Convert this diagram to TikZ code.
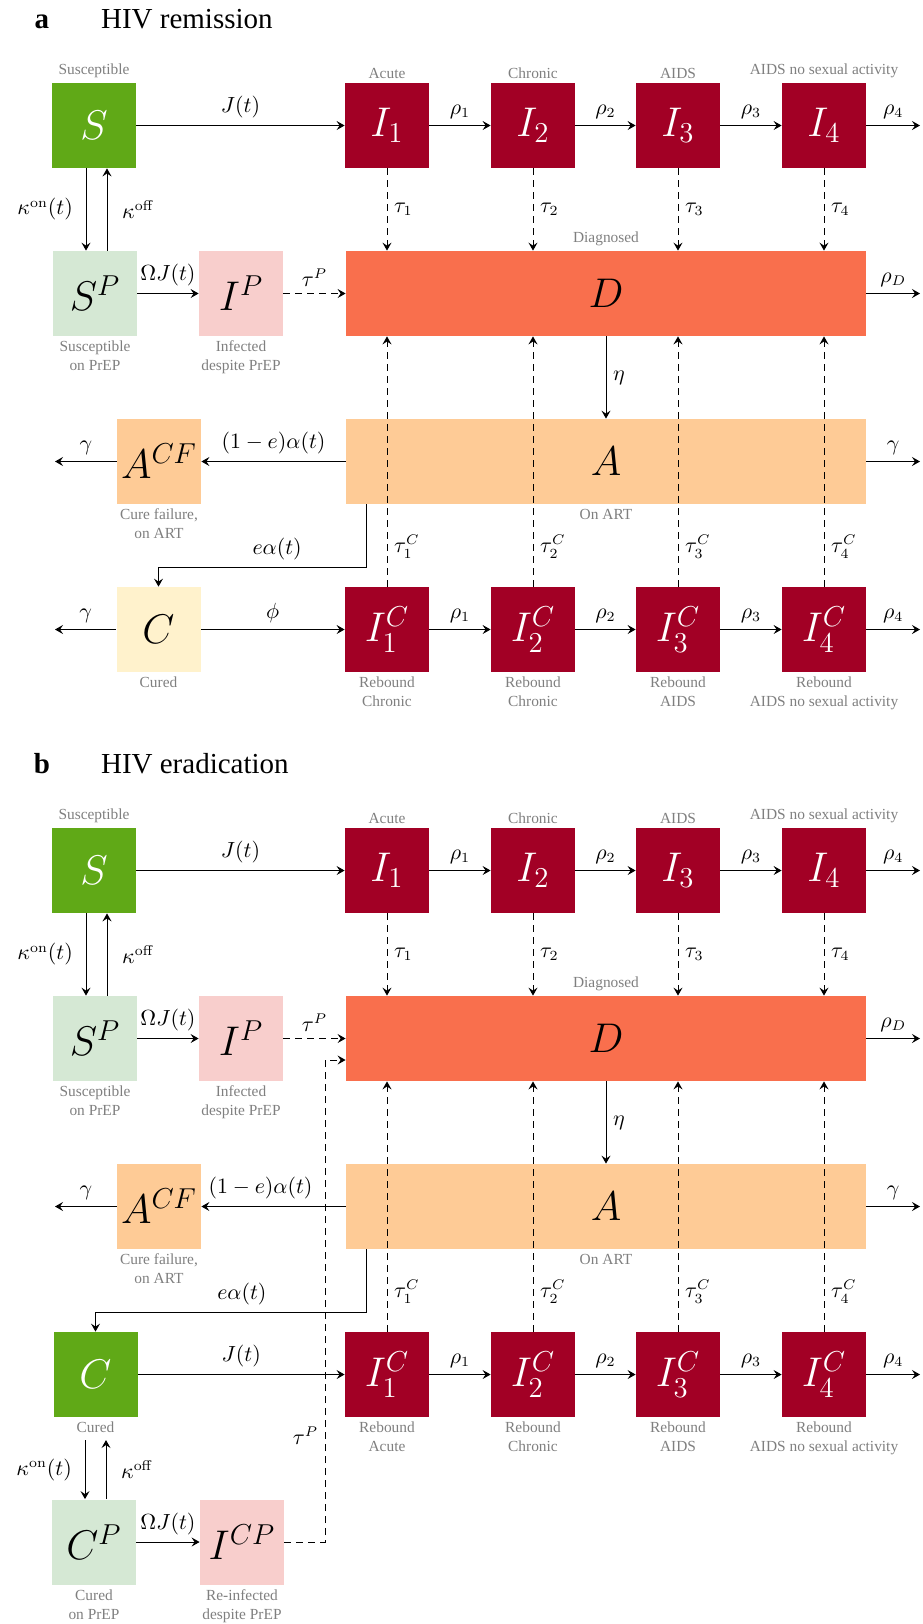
\documentclass[tikz,border=0pt]{standalone}
\usepackage[no-math]{fontspec}
\setmainfont{Liberation Serif}
\usetikzlibrary{arrows.meta,positioning}
\definecolor{suscGreen}{HTML}{60A917}
\definecolor{infRed}{HTML}{A20025}
\definecolor{diagOrange}{HTML}{F96F4D}
\definecolor{artPeach}{HTML}{FECB96}
\definecolor{curedCream}{HTML}{FFF2CC}
\definecolor{prepGreen}{HTML}{D5E8D4}
\definecolor{prepPink}{HTML}{F8CECC}
\definecolor{tagGray}{HTML}{7F7F7F}

\tikzset{
  comp/.style={minimum width=42pt,minimum height=42.5pt,inner sep=0pt,
    font=\fontsize{20}{24}\selectfont},
  infbox/.style={comp,fill=infRed,text=white},
  widebox/.style={comp,minimum width=260pt},
  tag/.style={font=\fontsize{7.7}{9.5}\selectfont,text=tagGray,align=center,inner sep=1pt},
  flow/.style={-{Stealth[length=4pt,width=4.5pt,inset=1.5pt]},line width=0.5pt},
  diag/.style={flow,dash pattern=on 3.5pt off 2.5pt},
  heading/.style={font=\fontsize{14.5}{17}\selectfont,anchor=base}
}

% Parts shared by both panels: #1 prefix, #2 shift (px), #3 letter,
% #4 title, #5 stage under the first rebound box.
\newcommand{\hivcore}[5]{%
\begin{scope}[shift={(0,#2)}]
  \node[heading,font=\fontsize{14.5}{17}\selectfont\bfseries] (#1Tag) at (42,28) {#3};
  \node[heading,anchor=base west] (#1Title) at (94,28) {#4};

  % infection chain
  \node[comp,fill=suscGreen,text=white] (#1S) at (94,125.5) {$S$};
  \node[tag,above=1pt of #1S] (#1LS) {Susceptible};
  \foreach \k/\x/\stage in {1/387/Acute,2/533/Chronic,3/678/AIDS,4/824/AIDS no sexual activity} {
    \node[infbox] (#1I\k) at (\x,125.5) {$I_\k$};
    \node[tag,above=1pt of #1I\k] (#1LI\k) {\stage};
  }

  % PrEP and diagnosis
  \node[comp,fill=prepGreen] (#1SP) at (95,293.5) {$S^P$};
  \node[tag,below=1pt of #1SP] (#1LSP) {Susceptible\\on PrEP};
  \node[comp,fill=prepPink] (#1IP) at (241,293.5) {$I^P$};
  \node[tag,below=1pt of #1IP] (#1LIP) {Infected\\despite PrEP};
  \node[widebox,fill=diagOrange] (#1D) at (606,293.5) {$D$};
  \node[tag,above=1pt of #1D] (#1LD) {Diagnosed};

  % treatment
  \node[comp,fill=artPeach] (#1CF) at (159,461.5) {$A^{CF}$};
  \node[tag,below=1pt of #1CF] (#1LCF) {Cure failure,\\on ART};
  \node[widebox,fill=artPeach] (#1A) at (606,461.5) {$A$};
  \node[tag,below=1pt of #1A] (#1LA) {On ART};

  % rebound chain
  \foreach \k/\x/\stage in {1/387/{#5},2/533/Chronic,3/678/AIDS,4/824/AIDS no sexual activity} {
    \node[infbox] (#1J\k) at (\x,629.5) {$I^C_\k$};
    \node[tag,below=1pt of #1J\k] (#1LJ\k) {Rebound\\\stage};
  }

  \coordinate (#1oI) at (920,125.5);
  \coordinate (#1oD) at (920,293.5);
  \coordinate (#1oA) at (920,461.5);
  \coordinate (#1oJ) at (920,629.5);
  \coordinate (#1oCF) at (55,461.5);

  \draw[flow] (#1S) -- node[above]{$J(t)$} (#1I1);
  \foreach \k/\n in {1/2,2/3,3/4} {
    \draw[flow] (#1I\k) -- node[above]{$\rho_\k$} (#1I\n);
    \draw[flow] (#1J\k) -- node[above]{$\rho_\k$} (#1J\n);
  }
  \draw[flow] (#1I4) -- node[above]{$\rho_4$} (#1oI);
  \draw[flow] (#1J4) -- node[above]{$\rho_4$} (#1oJ);
  \foreach \k in {1,...,4} {
    \draw[diag] (#1I\k) -- node[right]{$\tau_\k$} (#1I\k |- #1D.north);
    \draw[diag] (#1J\k) -- node[pos=0.16,right]{$\tau^C_\k$} (#1J\k |- #1D.south);
  }

  \draw[flow] ([xshift=-4pt]#1S.south) -- node[left=3pt]{$\kappa^{\mathrm{on}}(t)$}
    ([xshift=-4pt]#1S.south |- #1SP.north);
  \draw[flow] ([xshift=6.5pt]#1S.south |- #1SP.north) -- node[right=4pt]{$\kappa^{\mathrm{off}}$}
    ([xshift=6.5pt]#1S.south);
  \draw[flow] (#1SP) -- node[above]{$\Omega J(t)$} (#1IP);
  \draw[diag] (#1IP) -- node[above]{$\tau^P$} (#1D);
  \draw[flow] (#1D) -- node[above]{$\rho_D$} (#1oD);
  \draw[flow] (#1D) -- node[right]{$\eta$} (#1A);
  \draw[flow] (#1CF) -- node[above]{$\gamma$} (#1oCF);
  \draw[flow] (#1A) -- node[above]{$\gamma$} (#1oA);
\end{scope}}

\begin{document}
\begin{tikzpicture}[x=0.5pt,y=-0.5pt,font=\fontsize{10.6}{12.7}\selectfont]
\useasboundingbox (0,0) rectangle (922,1624);

% a: remission
\hivcore{a}{0}{a}{HIV remission}{Chronic}
\node[comp,fill=curedCream] (aC) at (158.5,629.5) {$C$};
\node[tag,below=1pt of aC] (aLC) {Cured};
\coordinate (aoC) at (55,629.5);
\draw[flow] (aA) -- node[above]{$(1-e)\alpha(t)$} (aCF);
\draw[flow] ([xshift=10.5pt]aA.south west) -- ++(0,63)
  -| node[pos=0.215,above]{$e\alpha(t)$} (aC.north);
\draw[flow] (aC) -- node[above]{$\phi$} (aJ1);
\draw[flow] (aC) -- node[above]{$\gamma$} (aoC);

% b: eradication, cured people can be re-infected
\hivcore{b}{745}{b}{HIV eradication}{Acute}
\node[comp,fill=suscGreen,text=white] (bC) at (95.5,1374.5) {$C$};
\node[tag,below=1pt of bC] (bLC) {Cured};
\node[comp,fill=prepGreen] (bCP) at (94,1542) {$C^P$};
\node[tag,below=1pt of bCP] (bLCP) {Cured\\on PrEP};
\node[comp,fill=prepPink] (bICP) at (242,1542) {$I^{CP}$};
\node[tag,below=1pt of bICP] (bLICP) {Re-infected\\despite PrEP};
\coordinate (bKon) at ([xshift=-5.25pt,yshift=-2.5pt]bLC.south);
\coordinate (bKoff) at ([xshift=5.25pt,yshift=-2.5pt]bLC.south);

\draw[flow] (bA) -- node[pos=0.59,above]{$(1-e)\alpha(t)$} (bCF);
\draw[flow] ([xshift=10.5pt]bA.south west) -- ++(0,63)
  -| node[pos=0.23,above]{$e\alpha(t)$} (bC.north);
\draw[flow] (bC) -- node[above]{$J(t)$} (bJ1);
\draw[flow] (bKon) -- node[left=3pt]{$\kappa^{\mathrm{on}}(t)$} (bKon |- bCP.north);
\draw[flow] (bKoff |- bCP.north) -- node[right=4pt]{$\kappa^{\mathrm{off}}$} (bKoff);
\draw[flow] (bCP) -- node[above]{$\Omega J(t)$} (bICP);
\draw[diag] (bICP.east) -- ++(41,0)
  |- node[pos=0.11,left]{$\tau^P$} ([yshift=-10.75pt]bD.west);

\end{tikzpicture}
\end{document}
